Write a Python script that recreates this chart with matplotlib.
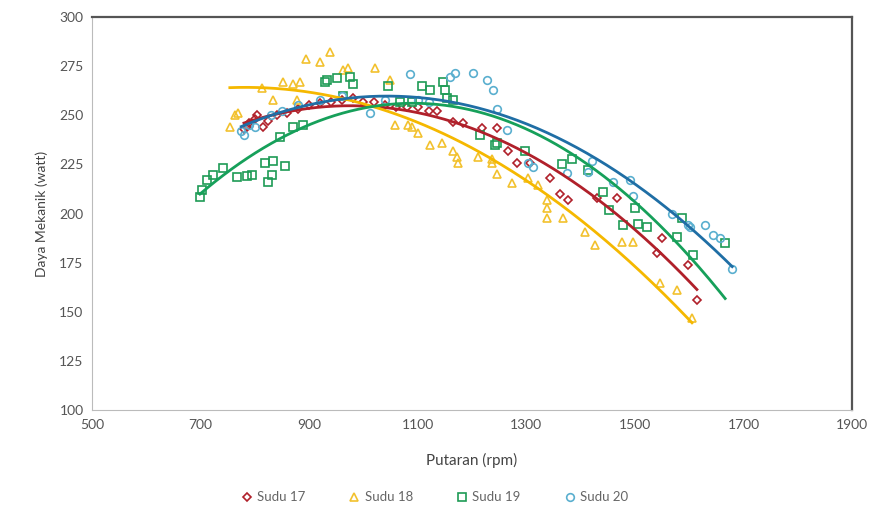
import matplotlib
matplotlib.use("Agg")
import matplotlib.pyplot as plt
import numpy as np

plt.rcParams['font.family'] = ['Lato', 'DejaVu Sans']

# Sudu 17 (merah, belah ketupat)
x17 = [780, 785, 790, 800, 804, 815, 825, 840, 860, 880, 900, 920, 940, 960, 980, 1000,
       1020, 1040, 1060, 1080, 1100, 1120, 1135, 1165, 1183, 1218, 1246, 1266, 1283,
       1307, 1344, 1362, 1377, 1430, 1467, 1541, 1550, 1598, 1614]
y17 = [243, 244, 246, 248, 250, 244, 247, 250, 251, 253, 255, 256, 257, 258, 259, 257,
       257, 255, 254, 254, 254, 252, 252, 246.5, 246, 243.5, 243.5, 232, 226,
       225.7, 218, 210, 207, 208, 208, 180, 187.5, 174, 156]

# Sudu 18 (kuning, segitiga)
x18 = [754, 763, 769, 813, 833, 852, 870, 877, 883, 894, 920, 938, 962, 971, 1021,
       1049, 1058, 1082, 1089, 1100, 1123, 1145, 1165, 1172, 1174, 1211, 1237, 1237,
       1246, 1274, 1303, 1321, 1338, 1338, 1338, 1368, 1408, 1427, 1476, 1497, 1546,
       1577, 1605]
y18 = [244, 250, 251, 264, 258, 267, 266, 258, 267, 278.6, 277, 282, 273, 274, 274,
       268, 245, 245, 244, 241, 235, 236, 232, 229, 226, 229, 228, 226,
       220, 215.5, 218, 214.5, 207, 203, 198, 198, 190.6, 184, 185.5, 185.5, 165,
       161, 147]

# Sudu 19 (hijau, kotak)
x19 = [699, 703, 712, 723, 741, 767, 785, 795, 819, 824, 832, 834, 846, 855, 870, 889,
       929, 933, 951, 962, 975, 980, 1045, 1067, 1089, 1108, 1123, 1146, 1150, 1154,
       1165, 1215, 1242, 1246, 1298, 1366, 1384, 1413, 1441, 1453, 1478, 1500, 1506,
       1522, 1577, 1587, 1607, 1666]
y19 = [208.4, 212, 217, 219.6, 223, 218.6, 219, 219.6, 225.7, 216, 219.6, 226.7, 239,
       224, 244, 245,
       267, 268, 269, 260, 269.5, 266, 265, 257, 257, 265, 263, 267, 263, 259,
       258, 240, 235, 236, 232, 225, 228, 222, 211, 202, 194, 203, 195,
       193, 188, 198, 179, 185]

# Sudu 20 (biru, lingkaran)
x20 = [775, 780, 790, 800, 830, 850, 880, 920, 960, 1012, 1040, 1086, 1100, 1120,
       1160, 1169, 1202, 1227, 1239, 1245, 1264, 1303, 1312, 1375, 1413, 1421, 1460,
       1491, 1497, 1568, 1598, 1601, 1629, 1644, 1657, 1679]
y20 = [242, 240, 245, 244, 250, 252, 255, 258, 260, 251, 258, 271, 258, 257,
       269.5, 271.5, 271.5, 268, 263, 253, 242.5, 225.7, 223.7, 220.6, 221, 227, 216,
       217, 209, 200, 194, 193, 194, 189, 187.5, 172]

series = [
    ("Sudu 17", x17, y17, "D", "#B0202A", "#B0202A", 4.5),
    ("Sudu 18", x18, y18, "^", "#F2C12E", "#F5B800", 6),
    ("Sudu 19", x19, y19, "s", "#1E9B55", "#16A05A", 6),
    ("Sudu 20", x20, y20, "o", "#5AAFCF", "#1F6EA5", 5.5),
]

fig = plt.figure(figsize=(8.75, 5.13), dpi=100)
ax = fig.add_axes([0.105, 0.2, 0.869, 0.767])

for name, xs, ys, mk, mc, lc, ms in series:
    ax.plot(xs, ys, linestyle="none", marker=mk, markersize=ms, markerfacecolor="none",
            markeredgecolor=mc, markeredgewidth=1.2, label=name)
for name, xs, ys, mk, mc, lc, ms in series:
    coef = np.polyfit(xs, ys, 2)
    xx = np.linspace(min(xs), max(xs), 200)
    ax.plot(xx, np.polyval(coef, xx), color=lc, linewidth=2)

ax.set_xlim(500, 1900)
ax.set_ylim(100, 300)
ax.set_xticks(np.arange(500, 1901, 200))
ax.set_yticks(np.arange(100, 301, 25))
ax.tick_params(length=0, labelsize=10, colors="#555555", pad=6)
for s in ["left", "bottom"]:
    ax.spines[s].set_color("#BBBBBB")
for s in ["top", "right"]:
    ax.spines[s].set_color("#555555")
    ax.spines[s].set_linewidth(1.6)

ax.set_xlabel("Putaran (rpm)", fontsize=11, color="#444444", labelpad=16)
ax.set_ylabel("Daya Mekanik (watt)", fontsize=10, color="#444444", labelpad=8)

ax.legend(loc="upper center", bbox_to_anchor=(0.45, -0.175), ncol=4, frameon=False,
          fontsize=9.5, handletextpad=0.3, columnspacing=3.2, labelcolor="#666666",
          handlelength=1)

fig.savefig("out.png", dpi=100)
